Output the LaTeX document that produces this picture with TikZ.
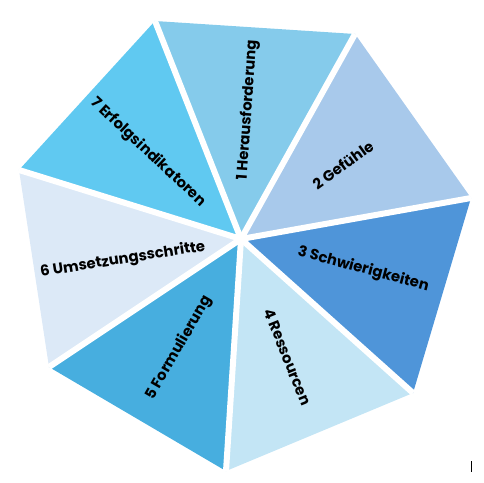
\documentclass[tikz,border=0pt]{standalone}
\usepackage{fontspec}
\setmainfont{Poppins}
\usepackage{tikz}
\usetikzlibrary{positioning}
\definecolor{wedgeA}{HTML}{85CBEB}
\definecolor{wedgeB}{HTML}{A8C9EB}
\definecolor{wedgeC}{HTML}{4F95D9}
\definecolor{wedgeD}{HTML}{C3E5F5}
\definecolor{wedgeE}{HTML}{47AEDF}
\definecolor{wedgeF}{HTML}{DCE9F7}
\definecolor{wedgeG}{HTML}{60C9F1}
\tikzstyle{wedgetext} = [text=black, font=\bfseries\fontsize{14.8}{17}\selectfont, inner sep=0pt]
\tikzstyle{gap} = [draw=white, line width=6pt]

\begin{document}
\begin{tikzpicture}[x=1pt, y=1pt]
\useasboundingbox (-241,-243) rectangle (243,239);

% corners ==============================
\coordinate (c) at (0,0);
\coordinate (v1) at (-86,218);
\coordinate (v2) at (114,205);
\coordinate (v3) at (230,41);
\coordinate (v4) at (172,-154);
\coordinate (v5) at (-15,-232);
\coordinate (v6) at (-192,-128);
\coordinate (v7) at (-222,69);

% wedges
\foreach \a/\b/\col in {v1/v2/wedgeA, v2/v3/wedgeB, v3/v4/wedgeC, v4/v5/wedgeD, v5/v6/wedgeE, v6/v7/wedgeF, v7/v1/wedgeG}
  \fill[\col] (c) -- (\a) -- (\b) -- cycle;

% white gaps
\foreach \v in {v1,v2,v3,v4,v5,v6,v7}
  \draw[gap] (c) -- (\v);
\fill[white] (c) circle (4);

% labels
\node[wedgetext, rotate=86]  (t1) at (87:129)   {1 Herausforderung};
\node[wedgetext, rotate=36]  (t2) at (36:126)   {2 Gefühle};
\node[wedgetext, rotate=-15] (t3) at (-14:126)  {3 Schwierigkeiten};
\node[wedgetext, rotate=-68] (t4) at (-68.5:127) {4 Ressourcen};
\node[wedgetext, rotate=60]  (t5) at (-119.6:125) {5 Formulierung};
\node[wedgetext, rotate=9]   (t6) at (190:120)  {6 Umsetzungsschritte};
\node[wedgetext, rotate=-43] (t7) at (137:127)  {7 Erfolgsindikatoren};

% small mark bottom right
\coordinate (mtop) at (230,-222);
\coordinate (mbot) at (230,-233);
\draw[line width=1pt] (mtop) -- (mbot);

\end{tikzpicture}
\end{document}
